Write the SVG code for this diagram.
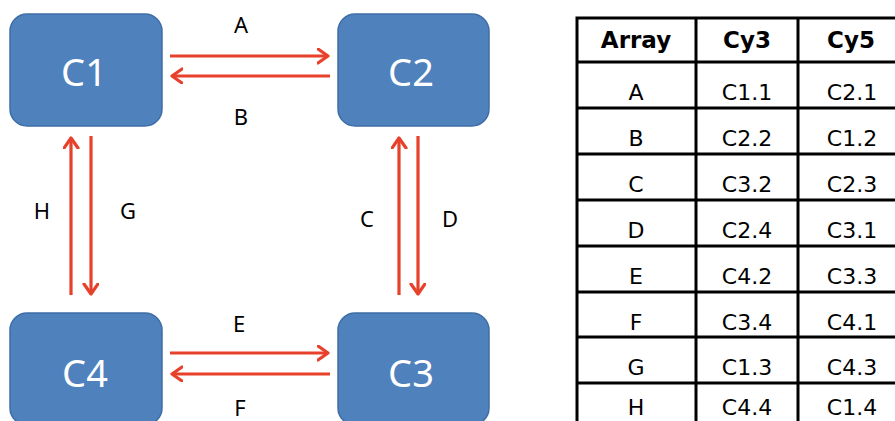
<svg xmlns="http://www.w3.org/2000/svg" width="895" height="421" viewBox="0 0 895 421">
<defs>
<marker id="ah" markerUnits="userSpaceOnUse" markerWidth="14" markerHeight="18" refX="11" refY="8" orient="auto">
<path d="M1,1 L11,8 L1,15" fill="none" stroke="#e8412b" stroke-width="3.2" stroke-linecap="round" stroke-linejoin="round"/>
</marker>
</defs>
<style>
.box{fill:#4f81bd;stroke:#3f6ea6;stroke-width:1.5}
.bt{font-family:"Noto Sans","Open Sans",sans-serif;font-size:38px;fill:#ffffff;text-anchor:middle}
.lbl{font-family:"Noto Sans","Open Sans",sans-serif;font-size:22px;fill:#000;text-anchor:middle}
.arr{stroke:#e8412b;stroke-width:3.2;fill:none;marker-end:url(#ah)}
.grid{stroke:#000;stroke-width:3;fill:none}
.th{font-family:"Comic Sans MS","DejaVu Sans",sans-serif;font-size:23px;font-weight:bold;fill:#000;text-anchor:middle}
.td{font-family:"Comic Sans MS","DejaVu Sans",sans-serif;font-size:22px;fill:#000;text-anchor:middle}
</style>
<rect width="895" height="421" fill="#ffffff"/>
<g id="C1"><rect class="box" x="10" y="14" width="152" height="112" rx="17"/><text class="bt" x="84" y="86">C1</text></g>
<g id="C2"><rect class="box" x="338" y="14" width="151" height="112" rx="17"/><text class="bt" x="411" y="86">C2</text></g>
<g id="C4"><rect class="box" x="10" y="313" width="152" height="112" rx="17"/><text class="bt" x="85" y="387">C4</text></g>
<g id="C3"><rect class="box" x="338" y="313" width="151" height="112" rx="17"/><text class="bt" x="411" y="387">C3</text></g>
<g id="connectors">
<line class="arr" x1="170" y1="56" x2="328" y2="56"/>
<line class="arr" x1="330" y1="76" x2="172" y2="76"/>
<line class="arr" x1="170" y1="353" x2="328" y2="353"/>
<line class="arr" x1="330" y1="374" x2="172" y2="374"/>
<line class="arr" x1="71" y1="295" x2="71" y2="138"/>
<line class="arr" x1="91" y1="136" x2="91" y2="294"/>
<line class="arr" x1="399" y1="295" x2="399" y2="138"/>
<line class="arr" x1="418" y1="136" x2="418" y2="294"/>
<text class="lbl" x="241" y="33">A</text>
<text class="lbl" x="241" y="125">B</text>
<text class="lbl" x="42" y="219">H</text>
<text class="lbl" x="128" y="219">G</text>
<text class="lbl" x="367" y="227">C</text>
<text class="lbl" x="450" y="227">D</text>
<text class="lbl" x="239" y="332">E</text>
<text class="lbl" x="240" y="416">F</text>
</g>
<g id="table">
<path class="grid" d="M577,430 V18 H900 M696,18 V430 M798,18 V430 M577,62 H900 M577,108 H900 M577,154 H900 M577,200 H900 M577,246 H900 M577,292 H900 M577,337 H900 M577,383 H900"/>
<text class="th" x="636" y="48">Array</text><text class="th" x="747" y="48">Cy3</text><text class="th" x="851" y="48">Cy5</text>
<text class="td" x="636" y="100">A</text><text class="td" x="747" y="100">C1.1</text><text class="td" x="852" y="100">C2.1</text>
<text class="td" x="636" y="146">B</text><text class="td" x="747" y="146">C2.2</text><text class="td" x="852" y="146">C1.2</text>
<text class="td" x="636" y="192">C</text><text class="td" x="747" y="192">C3.2</text><text class="td" x="852" y="192">C2.3</text>
<text class="td" x="636" y="238">D</text><text class="td" x="747" y="238">C2.4</text><text class="td" x="852" y="238">C3.1</text>
<text class="td" x="636" y="284">E</text><text class="td" x="747" y="284">C4.2</text><text class="td" x="852" y="284">C3.3</text>
<text class="td" x="636" y="330">F</text><text class="td" x="747" y="330">C3.4</text><text class="td" x="852" y="330">C4.1</text>
<text class="td" x="636" y="375">G</text><text class="td" x="747" y="375">C1.3</text><text class="td" x="852" y="375">C4.3</text>
<text class="td" x="636" y="415">H</text><text class="td" x="747" y="415">C4.4</text><text class="td" x="852" y="415">C1.4</text>
</g>
</svg>
